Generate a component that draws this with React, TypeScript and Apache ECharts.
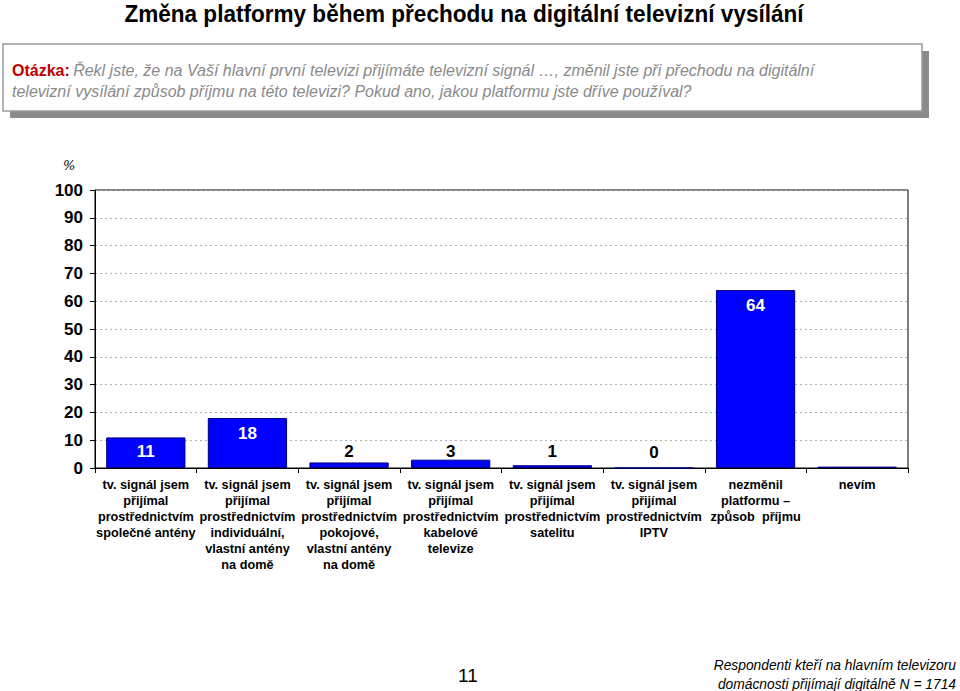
import React, { useEffect, useRef } from "react";
import * as echarts from "echarts";

const categories = [
  "tv. signál jsem\npřijímal\nprostřednictvím\nspolečné antény",
  "tv. signál jsem\npřijímal\nprostřednictvím\nindividuální,\nvlastní antény\nna domě",
  "tv. signál jsem\npřijímal\nprostřednictvím\npokojové,\nvlastní antény\nna domě",
  "tv. signál jsem\npřijímal\nprostřednictvím\nkabelové\ntelevize",
  "tv. signál jsem\npřijímal\nprostřednictvím\nsatelitu",
  "tv. signál jsem\npřijímal\nprostřednictvím\nIPTV",
  "nezměnil\nplatformu –\nzpůsob  příjmu",
  "nevím",
];
const values = [11, 18, 2, 3, 1, 0, 64, 0.5];
const valueLabels = ["11", "18", "2", "3", "1", "0", "64", ""];
const labelInside = [false, true, false, false, false, false, true, false];

const title = "Změna platformy během přechodu na digitální televizní vysílání";
const questionLabel = "Otázka:";
const questionLine1 = "Řekl jste, že na Vaší hlavní první televizi přijímáte televizní signál …, změnil jste při přechodu na digitální";
const questionLine2 = "televizní vysílání způsob příjmu na této televizi? Pokud ano, jakou platformu jste dříve používal?";
const footnote1 = "Respondenti kteří na hlavním televizoru";
const footnote2 = "domácnosti přijímají digitálně N = 1714";
const pageNumber = "11";

const FONT = "'Liberation Sans', Arial, Helvetica, sans-serif";

export default function App() {
  const ref = useRef<HTMLDivElement>(null);
  useEffect(() => {
    if (!ref.current) return;
    const chart = echarts.init(ref.current, undefined, { renderer: "svg" });
    const data = values.map((v, i) => {
      const inside = labelInside[i];
      return {
        value: v,
        label: {
          show: valueLabels[i] !== "",
          position: inside ? "insideTop" : "insideBottom",
          distance: inside ? 7 : 8,
          color: i === 0 || inside ? "#ffffff" : "#000000",
          formatter: () => valueLabels[i],
        },
      };
    });
    chart.setOption({
      animation: false,
      backgroundColor: "#ffffff",
      textStyle: { fontFamily: FONT },
      grid: {
        left: 95,
        right: 52,
        top: 190,
        bottom: 223,
        show: true,
        borderColor: "#000000",
        borderWidth: 1,
        backgroundColor: "transparent",
      },
      xAxis: {
        type: "category",
        data: categories,
        axisLine: { lineStyle: { color: "#000000", width: 1 } },
        axisTick: { show: true, alignWithLabel: false, length: 5, lineStyle: { color: "#000000" } },
        axisLabel: {
          interval: 0,
          margin: 9,
          fontSize: 12.7,
          fontWeight: "bold",
          lineHeight: 16,
          color: "#000000",
          fontFamily: FONT,
          align: "center",
        },
      },
      yAxis: {
        type: "value",
        min: 0,
        max: 100,
        interval: 10,
        axisLine: { show: true, lineStyle: { color: "#000000", width: 1 } },
        axisTick: { show: true, length: 5, lineStyle: { color: "#000000" } },
        axisLabel: {
          fontSize: 17,
          fontWeight: "bold",
          color: "#000000",
          margin: 12,
          fontFamily: FONT,
        },
        splitLine: { show: true, lineStyle: { color: "#b0b0b0", type: [2, 3], width: 1 } },
      },
      series: [
        {
          type: "bar",
          data,
          barWidth: "78%",
          itemStyle: { color: "#0000ff", borderColor: "#000080", borderWidth: 1 },
          label: { fontSize: 17, fontWeight: "bold", fontFamily: FONT },
        },
      ],
      graphic: [
        {
          type: "text",
          x: 464,
          y: 14,
          scaleX: 0.94,
          style: {
            text: title,
            fontFamily: FONT,
            fontSize: 24,
            fontWeight: "bold",
            fill: "#000000",
            align: "center",
            verticalAlign: "middle",
          },
        },
        {
          type: "rect",
          shape: { x: 10, y: 51, width: 919, height: 67 },
          style: { fill: "#8a8a8a" },
        },
        {
          type: "rect",
          shape: { x: 3, y: 44, width: 919, height: 67 },
          style: { fill: "#ffffff", stroke: "#9a9a9a", lineWidth: 1.5 },
        },
        {
          type: "text",
          x: 12,
          y: 62,
          style: {
            text: "{q|" + questionLabel + "} {t|" + questionLine1 + "}",
            rich: {
              q: { fontFamily: FONT, fontSize: 16, fontWeight: "bold", fill: "#c00000" },
              t: { fontFamily: FONT, fontSize: 16, fontStyle: "italic", fill: "#8a8a8a" },
            },
          },
        },
        {
          type: "text",
          x: 12,
          y: 83,
          style: {
            text: questionLine2,
            fontFamily: FONT,
            fontSize: 16,
            fontStyle: "italic",
            fill: "#8a8a8a",
          },
        },
        {
          type: "text",
          x: 63,
          y: 159,
          style: { text: "%", fontFamily: "'DejaVu Serif', serif", fontSize: 13, fontStyle: "italic", fill: "#000000" },
        },
        {
          type: "text",
          x: 458,
          y: 666,
          style: { text: pageNumber, fontFamily: FONT, fontSize: 19, fill: "#000000" },
        },
        {
          type: "text",
          x: 956,
          y: 655,
          scaleX: 0.92,
          style: {
            text: footnote1 + "\n" + footnote2,
            fontFamily: FONT,
            fontSize: 15,
            fontStyle: "italic",
            lineHeight: 19,
            align: "right",
            fill: "#000000",
          },
        },
      ],
    });
    return () => chart.dispose();
  }, []);
  return (
    <div
      ref={ref}
      style={{ position: "absolute", left: 0, top: 0, width: 960, height: 691 }}
    />
  );
}
